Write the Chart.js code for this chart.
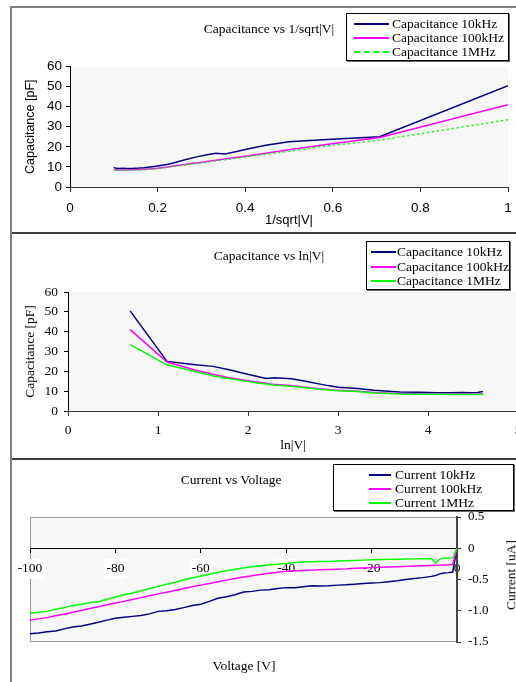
<!DOCTYPE html>
<html>
<head>
<meta charset="utf-8">
<title>Capacitance and current vs voltage</title>
<script src="https://cdn.jsdelivr.net/npm/chart.js@4.4.1/dist/chart.umd.min.js"></script>
<style>
  html, body { margin: 0; padding: 0; background: #fff; }
  body { position: relative; width: 516px; height: 682px; overflow: hidden;
         font-family: "Liberation Serif", "Times New Roman", serif; color: #000; }
  .frame { position: absolute; left: 10px; top: 6px; width: 700px; height: 800px;
           border-left: 2px solid #808080; border-top: 2px solid #808080; }
  .sep { position: absolute; left: 12px; width: 600px; height: 2px; background: #404040; }
  canvas { position: absolute; left: 0; }
  .lbl { position: absolute; white-space: nowrap; font-size: 13.5px; line-height: 1;
         transform: translate(-50%, -50%); }
  .legend { position: absolute; border: 1px solid #000; background: #fff;
            box-shadow: 1px 1px 0 #666; font-size: 13.5px; overflow: hidden; }
  .legend .txt { position: absolute; white-space: nowrap; line-height: 14px; transform: translateY(-50%); }
  .legend .sw { position: absolute; height: 0; }
</style>
</head>
<body>
<div class="frame"></div>
<canvas id="capSqrt" width="516" height="225" style="top:8px"></canvas>
<div class="sep" style="top:232px"></div>
<canvas id="capLn" width="530" height="224" style="top:235px"></canvas>
<div class="sep" style="top:458px"></div>
<canvas id="ivChart" width="516" height="221" style="top:461px"></canvas>

<div class="lbl" style="left:269px;top:29px">Capacitance vs 1/sqrt|V|</div>
<div class="lbl" style="left:269px;top:256px">Capacitance vs ln|V|</div>
<div class="lbl" style="left:231px;top:480px">Current vs Voltage</div>
<div class="lbl" style="left:244px;top:666px">Voltage [V]</div>
<div class="lbl" style="left:511px;top:575px;transform:translate(-50%,-50%) rotate(-90deg)">Current [uA]</div>

<script>
// ---- data ----
const capNames = ['Capacitance 10kHz', 'Capacitance 100kHz', 'Capacitance 1MHz'];
const curNames = ['Current 10kHz', 'Current 100kHz', 'Current 1MHz'];
const lineColors = ['#000080', '#ff00ff', '#00ff00'];

// x positions as plotted (1/sqrt|V| and ln|V|)
const invSqrtV = [1.000, 0.707, 0.577, 0.500, 0.447, 0.408, 0.378, 0.354, 0.333, 0.316, 0.289, 0.267, 0.250,
                  0.236, 0.224, 0.200, 0.183, 0.169, 0.158, 0.141, 0.129, 0.120, 0.112, 0.105, 0.100];
const lnV = [0.69, 1.10, 1.39, 1.61, 1.79, 1.95, 2.08, 2.20, 2.30, 2.48, 2.64, 2.77, 2.89,
             3.00, 3.22, 3.40, 3.56, 3.69, 3.91, 4.09, 4.25, 4.38, 4.47, 4.55, 4.61];

// capacitance [pF]
const cap10k  = [50.5, 25.0, 23.5, 22.5, 20.8, 19.0, 17.6, 16.4, 16.8, 16.2, 15.0, 13.8, 12.8,
                 12.0, 11.3, 10.5, 10.0, 9.6, 9.4, 9.2, 9.2, 9.3, 9.2, 9.3, 9.8];
const cap100k = [41.0, 24.7, 20.9, 18.5, 16.8, 15.6, 14.7, 14.0, 13.3, 12.8, 12.0, 11.3, 10.8,
                 10.4, 10.0, 9.3, 9.0, 8.8, 8.7, 8.6, 8.5, 8.5, 8.5, 8.5, 8.6];
const cap1M   = [33.5, 23.3, 20.2, 17.8, 16.3, 15.2, 14.3, 13.6, 13.0, 12.5, 11.7, 11.1, 10.6,
                 10.2, 9.8, 9.1, 8.8, 8.6, 8.5, 8.4, 8.3, 8.3, 8.3, 8.3, 8.3];

// current vs voltage
const volts = [-100, -98, -96, -94, -92, -90, -88, -86, -84, -82, -80, -78, -76, -74, -72, -70, -68, -66,
               -64, -62, -60, -58, -56, -54, -52, -50, -48, -46, -44, -42, -40, -38, -36, -34, -32, -30,
               -28, -26, -24, -22, -20, -18, -16, -14, -12, -10, -8, -6, -5, -4, -3, -2, -1, 0];
const cur10k  = [-1.370, -1.355, -1.335, -1.325, -1.290, -1.260, -1.245, -1.215, -1.185, -1.150, -1.120, -1.105,
                 -1.090, -1.075, -1.050, -1.010, -1.000, -0.980, -0.950, -0.915, -0.895, -0.850, -0.800, -0.775,
                 -0.745, -0.700, -0.690, -0.670, -0.665, -0.645, -0.630, -0.630, -0.615, -0.600, -0.605, -0.600,
                 -0.590, -0.585, -0.575, -0.565, -0.555, -0.550, -0.535, -0.520, -0.500, -0.485, -0.470, -0.450,
                 -0.435, -0.410, -0.395, -0.390, -0.380, 0];
const cur100k = [-1.150, -1.130, -1.110, -1.080, -1.055, -1.025, -0.995, -0.965, -0.935, -0.905, -0.875, -0.850,
                 -0.820, -0.790, -0.760, -0.730, -0.705, -0.675, -0.645, -0.615, -0.590, -0.565, -0.535, -0.510,
                 -0.485, -0.460, -0.440, -0.420, -0.400, -0.385, -0.370, -0.360, -0.355, -0.350, -0.345, -0.340,
                 -0.335, -0.330, -0.320, -0.315, -0.310, -0.305, -0.300, -0.295, -0.290, -0.285, -0.280, -0.275,
                 -0.272, -0.270, -0.268, -0.265, -0.260, 0];
const cur1M   = [-1.040, -1.025, -1.010, -0.975, -0.950, -0.915, -0.895, -0.870, -0.855, -0.815, -0.780, -0.745,
                 -0.715, -0.680, -0.645, -0.610, -0.575, -0.545, -0.505, -0.475, -0.445, -0.415, -0.385, -0.360,
                 -0.335, -0.315, -0.295, -0.280, -0.265, -0.255, -0.245, -0.230, -0.220, -0.215, -0.210, -0.210,
                 -0.205, -0.200, -0.195, -0.190, -0.185, -0.180, -0.178, -0.175, -0.172, -0.170, -0.168, -0.165,
                 -0.240, -0.170, -0.160, -0.158, -0.155, 0];

const capXTicks = { sqrt: 0.2, ln: 1 };
const capYRange = [0, 60, 10];
const curYRange = [-1.5, 0.5, 0.5];
const curXRange = [-100, 0, 20];

// ---- helpers ----
const SANS = '"Liberation Sans", Arial, sans-serif';
const SERIF = '"Liberation Serif", "Times New Roman", serif';

function pts(xs, ys) {
    return xs.map((x, i) => ({ x: x, y: ys[i] }));
}

// plain number labels: 0, 0.2 ... 1 (no "1.0")
const plainTick = v => String(Math.round(v * 1000) / 1000);

const plotBg = {
    id: 'plotBg',
    beforeDraw(chart, args, opts) {
        const { ctx, chartArea: a } = chart;
        ctx.save();
        ctx.fillStyle = '#f7f7f7';
        ctx.fillRect(a.left, a.top, a.right - a.left, a.bottom - a.top);
        if (opts.border) {
            ctx.strokeStyle = opts.border;
            ctx.lineWidth = 1;
            ctx.strokeRect(a.left + 0.5, a.top + 0.5, a.right - a.left - 1, a.bottom - a.top - 1);
        }
        ctx.restore();
    }
};

function makeSets(xs, series, dashedLast) {
    return series.map((ys, i) => ({
        label: (xs === volts ? curNames : capNames)[i],
        data: pts(xs, ys),
        borderColor: lineColors[i],
        backgroundColor: lineColors[i],
        borderWidth: 1.5,
        borderDash: dashedLast && i === 2 ? [2, 3] : [],
        pointRadius: 0,
        tension: 0,
        order: 2 - i
    }));
}

function baseOptions(padding) {
    return {
        responsive: false,
        animation: false,
        devicePixelRatio: 1,
        layout: { padding: padding },
        plugins: { legend: { display: false }, tooltip: { enabled: false }, title: { display: false } },
        events: []
    };
}

// fixed axis box; edge labels may hang over the plot edges
function fixX(h) {
    return s => { s.height = h; s.paddingLeft = 0; s.paddingRight = 0; };
}

function addLegend(names, dashedLast, box) {
    const el = document.createElement('div');
    el.className = 'legend';
    el.style.left = box.left + 'px';
    el.style.top = box.top + 'px';
    el.style.width = box.width + 'px';
    el.style.height = box.height + 'px';
    names.forEach((name, i) => {
        const y = box.rows[i];
        const sw = document.createElement('span');
        sw.className = 'sw';
        sw.style.left = box.sw[0] + 'px';
        sw.style.width = (box.sw[1] - box.sw[0]) + 'px';
        sw.style.top = (y - 1) + 'px';
        sw.style.borderTop = (dashedLast && i === 2 ? '2px dashed ' : '2px solid ') + lineColors[i];
        el.appendChild(sw);
        const t = document.createElement('div');
        t.className = 'txt';
        t.style.left = box.text + 'px';
        t.style.top = y + 'px';
        t.textContent = name;
        el.appendChild(t);
    });
    document.body.appendChild(el);
}

// ---- chart 1: capacitance vs 1/sqrt|V| ----
const opt1 = baseOptions({ left: 12, top: 58.5, right: 8, bottom: 0 });
opt1.plugins.plotBg = {};
opt1.scales = {
    x: {
        type: 'linear', min: 0, max: 1,
        afterFit: fixX(46),
        ticks: { stepSize: capXTicks.sqrt, callback: plainTick, font: { family: SANS, size: 13.5 }, color: '#000', padding: 8, maxRotation: 0 },
        grid: { drawOnChartArea: false, tickLength: 5, color: '#333' },
        border: { color: '#333' },
        title: { display: true, text: '1/sqrt|V|', font: { family: SANS, size: 13 }, color: '#000', padding: { top: 0, bottom: 5 } }
    },
    y: {
        type: 'linear', min: capYRange[0], max: capYRange[1],
        afterFit: s => { s.width = 58; },
        ticks: { stepSize: capYRange[2], font: { family: SANS, size: 13.5 }, color: '#000', padding: 4 },
        grid: { drawOnChartArea: false, tickLength: 4, color: '#000' },
        border: { color: '#000' },
        title: { display: true, text: 'Capacitance [pF]', font: { family: SANS, size: 12.5 }, color: '#000', padding: { top: 11, bottom: 0 } }
    }
};
new Chart(document.getElementById('capSqrt'), {
    type: 'line',
    data: { datasets: makeSets(invSqrtV, [cap10k, cap100k, cap1M], true) },
    options: opt1,
    plugins: [plotBg]
});

// ---- chart 2: capacitance vs ln|V| ----
const opt2 = baseOptions({ left: 10, top: 57, right: 12, bottom: 0 });
opt2.plugins.plotBg = {};
opt2.scales = {
    x: {
        type: 'linear', min: 0, max: 5,
        afterFit: fixX(48),
        ticks: { stepSize: capXTicks.ln, font: { family: SERIF, size: 13.5 }, color: '#000', padding: 6.5, maxRotation: 0 },
        grid: { drawOnChartArea: false, tickLength: 5, color: '#333' },
        border: { color: '#333' },
        title: { display: true, text: 'ln|V|', font: { family: SERIF, size: 13.5 }, color: '#000', padding: { top: 0, bottom: 5 } }
    },
    y: {
        type: 'linear', min: capYRange[0], max: capYRange[1],
        afterFit: s => { s.width = 58; },
        ticks: { stepSize: capYRange[2], font: { family: SERIF, size: 13.5 }, color: '#000', padding: 6 },
        grid: { drawOnChartArea: false, tickLength: 4, color: '#000' },
        border: { color: '#000' },
        title: { display: true, text: 'Capacitance [pF]', font: { family: SERIF, size: 13.5 }, color: '#000', padding: { top: 12, bottom: 0 } }
    }
};
new Chart(document.getElementById('capLn'), {
    type: 'line',
    data: { datasets: makeSets(lnV, [cap10k, cap100k, cap1M], false) },
    options: opt2,
    plugins: [plotBg]
});

// ---- chart 3: current vs voltage ----
const opt3 = baseOptions({ left: 30, top: 56, right: 0, bottom: 40 });
opt3.plugins.plotBg = { border: '#9a9a9a' };
opt3.scales = {
    x: {
        type: 'linear', min: curXRange[0], max: curXRange[1],
        position: { y: 0 },
        ticks: {
            stepSize: curXRange[2], font: { family: SERIF, size: 13.5 }, color: '#000', padding: 8.5, maxRotation: 0,
            showLabelBackdrop: true, backdropColor: '#ffffff', backdropPadding: 2
        },
        grid: { drawOnChartArea: false, tickLength: 4, color: '#000' },
        border: { color: '#000' }
    },
    y: {
        type: 'linear', position: 'right', min: curYRange[0], max: curYRange[1],
        afterFit: s => { s.width = 59; },
        ticks: { stepSize: curYRange[2], font: { family: SERIF, size: 13 }, color: '#000', padding: 7 },
        grid: { drawOnChartArea: false, tickLength: 4, color: '#333' },
        border: { color: '#444', width: 2 }
    }
};
new Chart(document.getElementById('ivChart'), {
    type: 'line',
    data: { datasets: makeSets(volts, [cur10k, cur100k, cur1M], false) },
    options: opt3,
    plugins: [plotBg]
});

// ---- legends ----
addLegend(capNames, true,  { left: 346, top: 13,  width: 161, height: 46, rows: [10, 24, 38], sw: [7, 42], text: 45 });
addLegend(capNames, false, { left: 366, top: 241, width: 142, height: 47, rows: [10, 24.5, 39], sw: [4, 29], text: 30 });
addLegend(curNames, false, { left: 333, top: 464, width: 179, height: 45, rows: [10, 24, 38], sw: [35, 57], text: 61 });
</script>
</body>
</html>
